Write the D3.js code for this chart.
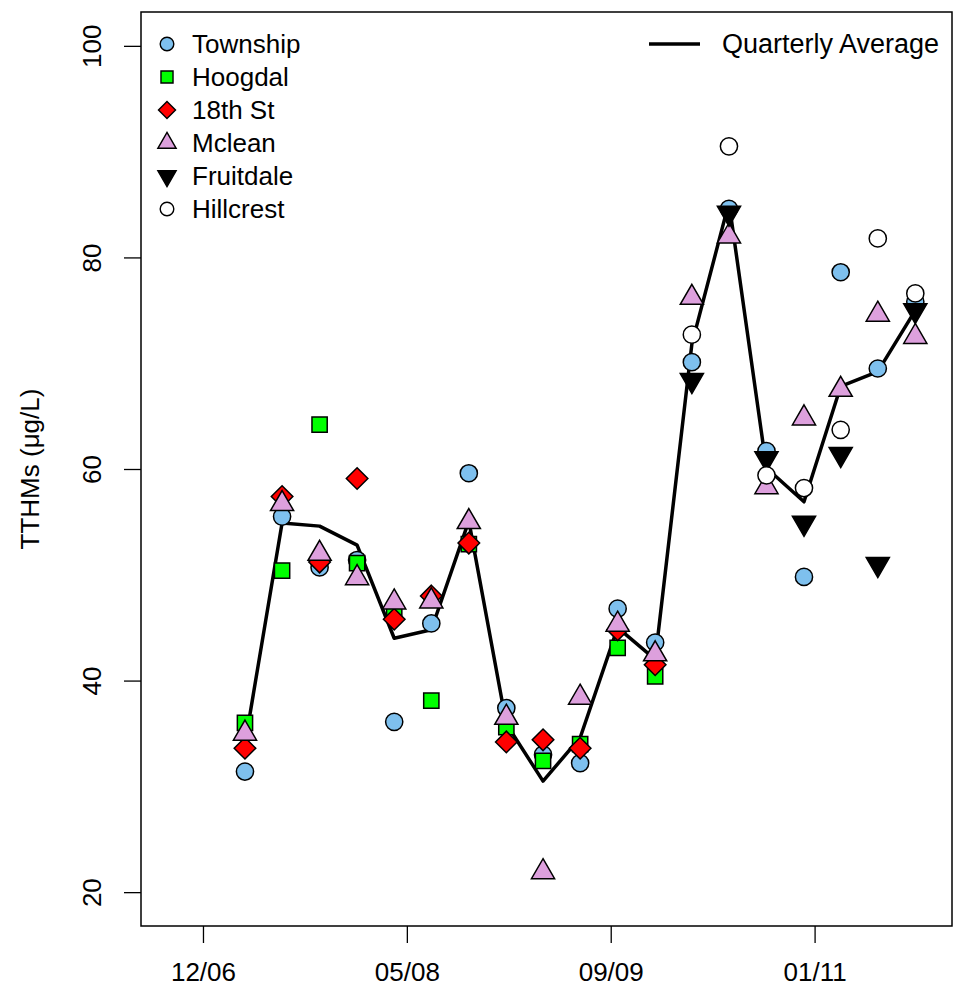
<!DOCTYPE html>
<html>
<head>
<meta charset="utf-8">
<script src="https://cdn.jsdelivr.net/npm/d3@7"></script>
<style>
html,body{margin:0;padding:0;background:#fff;}
svg{display:block;font-family:"Liberation Sans",Arial,Helvetica,sans-serif;}
</style>
</head>
<body>
<svg id="chart" width="953" height="987"></svg>
<script>
// ---- data ----
const sampleDates = ["2007-03-31","2007-06-30","2007-09-30","2007-12-31","2008-03-31","2008-06-30",
  "2008-09-30","2008-12-31","2009-03-31","2009-06-30","2009-09-30","2009-12-31",
  "2010-03-31","2010-06-30","2010-09-30","2010-12-31","2011-03-31","2011-06-30","2011-09-30"];
const township  = [31.4,55.5,50.7,51.4,36.1,45.4,59.6,37.4,33.0,32.2,46.8,43.6,70.1,84.6,61.7,49.8,78.6,69.5,75.8];
const hoogdal   = [36.0,50.4,64.2,51.1,46.6,38.1,52.9,35.6,32.4,34.0,43.1,40.4,null,null,null,null,null,null,null];
const st18      = [33.6,57.4,51.2,59.1,45.8,48.0,53.0,34.2,34.4,33.6,44.8,41.5,null,null,null,null,null,null,null];
const mclean    = [35.0,56.7,52.0,49.7,47.4,47.5,55.0,36.5,21.9,38.4,45.3,42.5,76.2,82.0,58.3,64.8,67.5,74.6,72.5];
const fruitdale = [null,null,null,null,null,null,null,null,null,null,null,null,68.4,84.2,61.0,54.9,61.4,51.0,75.0];
const hillcrest = [null,null,null,null,null,null,null,null,null,null,null,null,72.7,90.5,59.4,58.2,63.7,81.8,76.6];
const quarterlyAverage = [34.0,54.9,54.6,52.8,44.0,44.8,55.1,35.9,30.5,34.6,45.0,42.0,71.8,85.2,60.1,56.9,67.8,69.2,75.0];
const xTickDates = ["2006-12-18","2008-05-01","2009-09-13","2011-01-26"];
const yTicks = [20,40,60,80,100];
const seriesNames = ["Township","Hoogdal","18th St","Mclean","Fruitdale","Hillcrest"];
const seriesColors = ["#7EC0EE","#00FF00","#FF0000","#DDA0DD","#000000","#FFFFFF"];
const seriesShapes = ["circle","square","diamond","triUp","triDown","circle"];
const seriesValues = [township,hoogdal,st18,mclean,fruitdale,hillcrest];

// ---- layout ----
const L = 141, R = 952, T = 12, B = 926;
const svg = d3.select("#chart");
const x = d3.scaleUtc().domain([new Date("2006-07-19"), new Date("2011-12-29")]).range([L, R]);
const y = d3.scaleLinear().domain([16.8, 103.2]).range([B, T]);

function shapePath(shape, r) {
  if (shape === "circle") return `M${r},0A${r},${r} 0 1,1 ${-r},0A${r},${r} 0 1,1 ${r},0Z`;
  if (shape === "square") { const s = 0.8862 * r; return `M${-s},${-s}H${s}V${s}H${-s}Z`; }
  if (shape === "diamond") { const d = 1.2533 * r; return `M0,${-d}L${d},0L0,${d}L${-d},0Z`; }
  const t0 = 1.5551 * r, t1 = 1.3468 * r, t2 = 0.7776 * r;
  if (shape === "triUp") return `M0,${-t0}L${t1},${t2}L${-t1},${t2}Z`;
  return `M0,${t0}L${t1},${-t2}L${-t1},${-t2}Z`;
}

// ---- axes ----
const xAxis = d3.axisBottom(x)
  .tickValues(xTickDates.map(d => new Date(d)))
  .tickFormat(d3.utcFormat("%m/%y"))
  .tickSize(17).tickPadding(20);
const gx = svg.append("g").attr("transform", `translate(0,${B})`).call(xAxis);
gx.select(".domain").remove();
gx.selectAll("line").attr("stroke", "#000").attr("stroke-width", 1.3);
gx.selectAll("text").attr("font-size", 26).attr("fill", "#000")
  .attr("font-family", "'Liberation Sans',Arial,sans-serif");

const yAxis = d3.axisLeft(y).tickValues(yTicks).tickSize(17);
const gy = svg.append("g").attr("transform", `translate(${L},0)`).call(yAxis);
gy.select(".domain").remove();
gy.selectAll("line").attr("stroke", "#000").attr("stroke-width", 1.3);
gy.selectAll("text").attr("font-size", 26).attr("fill", "#000")
  .attr("font-family", "'Liberation Sans',Arial,sans-serif")
  .attr("x", 0).attr("dy", "0.35em").attr("text-anchor", "middle")
  .attr("transform", "translate(-49,0) rotate(-90)");

svg.append("text")
  .attr("transform", `translate(39,${(T + B) / 2}) rotate(-90)`)
  .attr("text-anchor", "middle").attr("font-size", 26).attr("fill", "#000")
  .text("TTHMs (\u03BCg/L)");

// ---- quarterly average line ----
const lineData = sampleDates.map((d, i) => ({date: new Date(d), v: quarterlyAverage[i]}));
svg.append("path")
  .datum(lineData)
  .attr("fill", "none").attr("stroke", "#000").attr("stroke-width", 3.5)
  .attr("stroke-linejoin", "round")
  .attr("d", d3.line().x(d => x(d.date)).y(d => y(d.v)));

// ---- points ----
seriesValues.forEach((vals, si) => {
  const pts = sampleDates.map((d, i) => ({date: new Date(d), v: vals[i]})).filter(p => p.v != null);
  svg.append("g").selectAll("path").data(pts).join("path")
    .attr("transform", p => `translate(${x(p.date)},${y(p.v)})`)
    .attr("d", shapePath(seriesShapes[si], 8.6))
    .attr("fill", seriesColors[si]).attr("stroke", "#000").attr("stroke-width", 1.5);
});

// ---- frame ----
svg.append("rect").attr("x", L).attr("y", T).attr("width", R - L).attr("height", B - T)
  .attr("fill", "none").attr("stroke", "#000").attr("stroke-width", 1.5);

// ---- legends ----
const leg = svg.append("g");
seriesNames.forEach((name, i) => {
  const cy = 44 + i * 33;
  leg.append("path").attr("transform", `translate(167,${cy})`)
    .attr("d", shapePath(seriesShapes[i], 6.8))
    .attr("fill", seriesColors[i]).attr("stroke", "#000").attr("stroke-width", 1.4);
  leg.append("text").attr("x", 192).attr("y", cy).attr("dy", "0.35em")
    .attr("font-size", 26).attr("fill", "#000").text(name);
});
leg.append("line").attr("x1", 649).attr("x2", 700).attr("y1", 44).attr("y2", 44)
  .attr("stroke", "#000").attr("stroke-width", 3.5);
leg.append("text").attr("x", 722).attr("y", 44).attr("dy", "0.35em")
  .attr("font-size", 27).attr("fill", "#000").text("Quarterly Average");
</script>
</body>
</html>
